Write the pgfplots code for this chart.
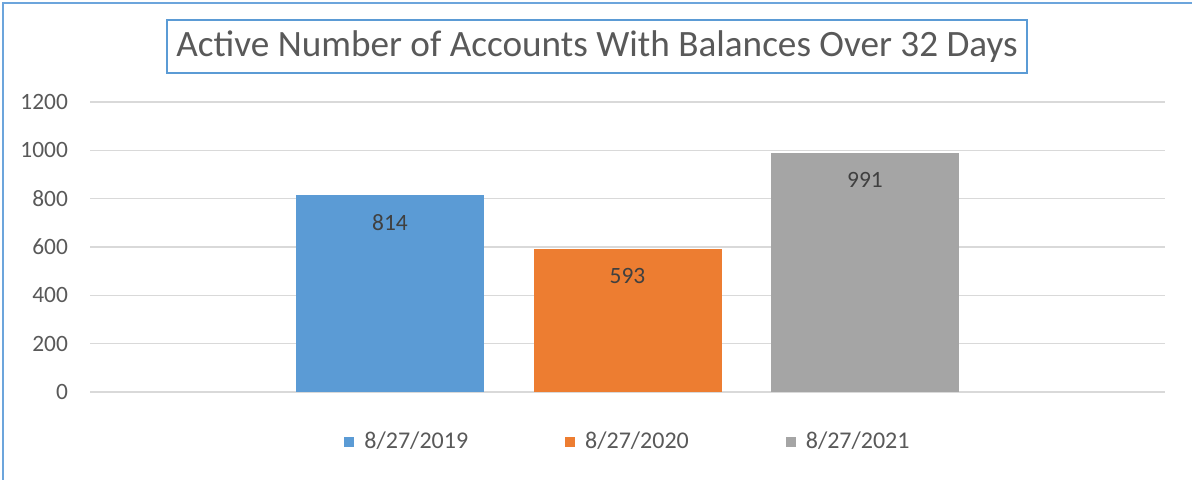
\documentclass[border=0pt]{standalone}
\usepackage{fontspec}
\setmainfont{Carlito}
\usepackage{pgfplots}
\pgfplotsset{compat=1.18}
\definecolor{barblue}{RGB}{91,155,213}
\definecolor{barorange}{RGB}{237,125,49}
\definecolor{bargray}{RGB}{165,165,165}
\definecolor{framecol}{RGB}{108,165,220}
\definecolor{ticktext}{RGB}{89,89,89}
\definecolor{labeltext}{RGB}{64,64,64}
\definecolor{gridcol}{RGB}{217,217,217}

\begin{document}
\begin{tikzpicture}
\useasboundingbox (0pt,0pt) rectangle (596pt,240pt);

% chart frame (only left and top edges visible)
\draw[framecol, line width=1pt] (1.25pt,0pt) -- (1.25pt,238.25pt) -- (596pt,238.25pt);

% boxed title
\node[draw=barblue, line width=1pt, minimum width=430pt, minimum height=26.5pt,
      inner sep=0pt, text=ticktext, font=\fontsize{18.6}{22}\selectfont]
  at (298.5pt,216.75pt) {Active Number of Accounts With Balances Over 32 Days};

\begin{axis}[
  at={(45pt,44pt)}, anchor=south west,
  scale only axis,
  width=537.5pt, height=145pt,
  xmin=-0.263, xmax=4.263,
  ymin=0, ymax=1200,
  ytick={0,200,400,600,800,1000,1200},
  xtick=\empty,
  ymajorgrids,
  grid style={gridcol, line width=0.75pt},
  axis line style={draw=none},
  major tick length=0pt,
  /pgf/number format/assume math mode=true,
  /pgf/number format/1000 sep={},
  yticklabel style={font=\fontsize{11.7}{14}\selectfont, text=ticktext, xshift=-7.5pt},
  ybar, bar width=94pt, bar shift=0pt,
  nodes near coords,
  every node near coord/.append style={font=\fontsize{11.7}{14}\selectfont,
    text=labeltext, anchor=center, yshift=-13.75pt},
  legend columns=-1,
  legend image code/.code={\fill[#1] (0pt,-2.5pt) rectangle (5pt,2.5pt);},
  legend style={draw=none, at={(0.5014,-0.1724)}, anchor=center,
    font=\fontsize{12}{14}\selectfont, text=ticktext,
    /tikz/every odd column/.append style={column sep=3pt},
    /tikz/every even column/.append style={column sep=46.5pt}},
]
\addplot[fill=barblue, draw=none] coordinates {(1,814)};
\addlegendentry{8/27/2019}
\addplot[fill=barorange, draw=none] coordinates {(2,593)};
\addlegendentry{8/27/2020}
\addplot[fill=bargray, draw=none] coordinates {(3,991)};
\addlegendentry{8/27/2021}
\end{axis}
\end{tikzpicture}
\end{document}
